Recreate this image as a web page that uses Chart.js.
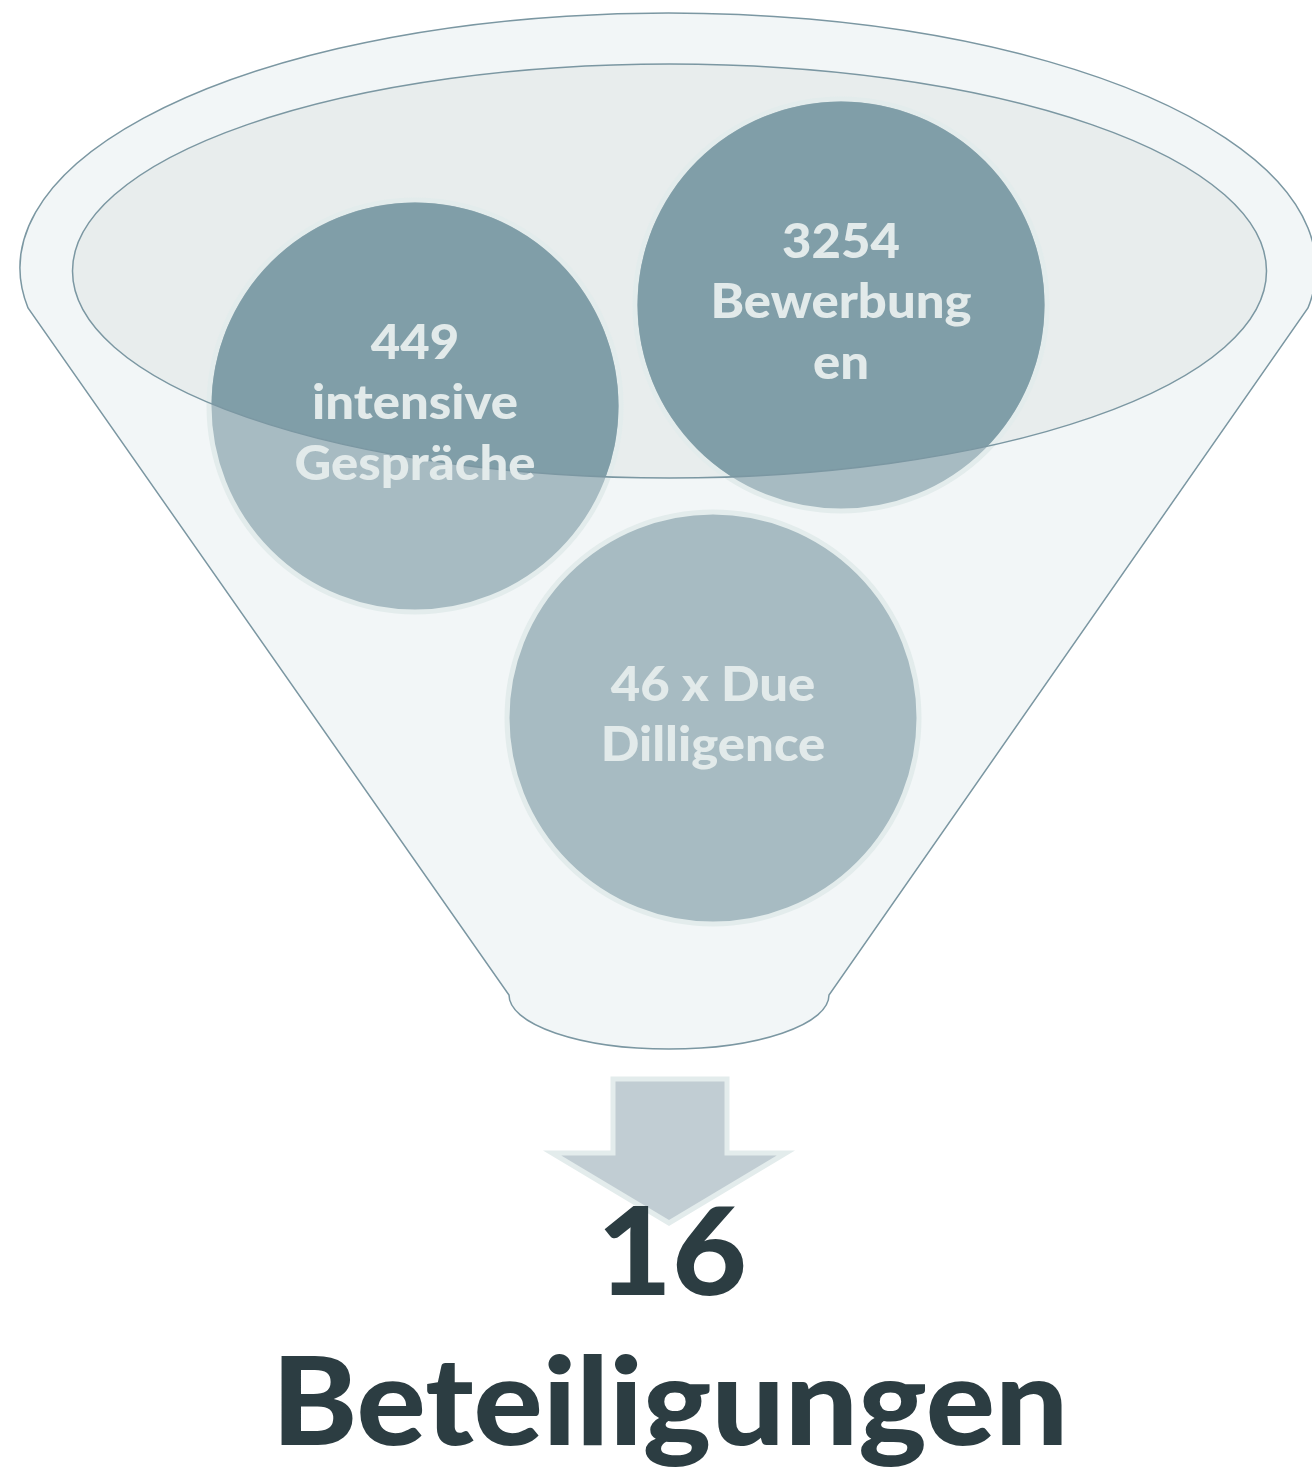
<!DOCTYPE html>
<html>
<head>
<meta charset="utf-8">
<script src="https://cdn.jsdelivr.net/npm/chart.js@4.4.1/dist/chart.umd.min.js"></script>
<style>
  body { margin: 0; background: #ffffff; }
  #wrap { width: 1312px; height: 1468px; position: relative; }
</style>
</head>
<body>
<div id="wrap"><canvas id="funnelChart"></canvas></div>
<script>
// funnel stages (top -> bottom) and the final result
const stageCounts = [3254, 449, 46];
const stageLines = [
    [`${stageCounts[0]}`, 'Bewerbung', 'en'],
    [`${stageCounts[1]}`, 'intensive', 'Gespräche'],
    [`${stageCounts[2]} x Due`, 'Dilligence']
];
const resultCount = 16;
const resultLabel = 'Beteiligungen';

// layout (axis units, the axes span the whole page)
const bubbleCenters = [{ x: 841, y: 305 }, { x: 415, y: 406 }, { x: 713, y: 718 }];
const bubbleRadius = 206;
const rim = { cx: 668, cy: 268, rx: 648, ry: 255, cornerY: 308 };
const spout = { cx: 669, cy: 995, rx: 160, ry: 54 };
const bowl = { cx: 669.5, cy: 271, rx: 597, ry: 207 };
const arrowPts = [[613, 1079], [727, 1079], [727, 1153], [786, 1153], [669, 1223], [552, 1153], [613, 1153]];

const colors = {
    funnelFill: '#f2f6f7',
    funnelLine: '#7b97a2',
    bowlFill: '#e8eded',
    bubbleLight: '#a7bbc2',
    bubbleDark: '#809ea8',
    ring: '#e3ecec',
    bubbleText: '#e2eaea',
    arrowFill: '#c1cdd3',
    darkText: '#2c3d42'
};
const FONT = 'Lato, "Open Sans", sans-serif';
const STRETCH = 1.06; // reference face is a bit wider than Lato

function drawStretched(ctx, text, x, y, size) {
    ctx.save();
    ctx.font = `900 ${size}px ${FONT}`;
    ctx.textAlign = 'center';
    ctx.textBaseline = 'alphabetic';
    ctx.translate(x, y);
    ctx.scale(STRETCH, 1);
    ctx.fillText(text, 0, 0);
    ctx.restore();
}

const funnelPlugin = {
    id: 'funnel',
    beforeDatasetsDraw(chart) {
        const { ctx, scales: { x, y } } = chart;
        const px = v => x.getPixelForValue(v);
        const py = v => y.getPixelForValue(v);
        const sx = v => px(v) - px(0);
        const sy = v => py(v) - py(0);

        // outer funnel body
        const a = Math.asin((rim.cornerY - rim.cy) / rim.ry);
        ctx.save();
        ctx.beginPath();
        ctx.ellipse(px(rim.cx), py(rim.cy), sx(rim.rx), sy(rim.ry), 0, Math.PI - a, 2 * Math.PI + a, false);
        ctx.lineTo(px(spout.cx + spout.rx), py(spout.cy));
        ctx.ellipse(px(spout.cx), py(spout.cy), sx(spout.rx), sy(spout.ry), 0, 0, Math.PI, false);
        ctx.closePath();
        ctx.fillStyle = colors.funnelFill;
        ctx.fill();
        ctx.lineWidth = 1.5;
        ctx.strokeStyle = colors.funnelLine;
        ctx.stroke();

        // inner bowl
        ctx.beginPath();
        ctx.ellipse(px(bowl.cx), py(bowl.cy), sx(bowl.rx), sy(bowl.ry), 0, 0, 2 * Math.PI);
        ctx.fillStyle = colors.bowlFill;
        ctx.fill();
        ctx.restore();
    },
    afterDatasetsDraw(chart) {
        const { ctx, scales: { x, y } } = chart;
        const px = v => x.getPixelForValue(v);
        const py = v => y.getPixelForValue(v);
        const sx = v => px(v) - px(0);
        const sy = v => py(v) - py(0);
        const points = chart.getDatasetMeta(0).data;

        // darker part of the bubbles inside the bowl
        ctx.save();
        ctx.beginPath();
        ctx.ellipse(px(bowl.cx), py(bowl.cy), sx(bowl.rx), sy(bowl.ry), 0, 0, 2 * Math.PI);
        ctx.clip();
        ctx.fillStyle = colors.bubbleDark;
        points.forEach(pt => {
            ctx.beginPath();
            ctx.arc(pt.x, pt.y, sx(bubbleRadius) - 2.5, 0, 2 * Math.PI);
            ctx.fill();
        });
        ctx.restore();

        ctx.save();
        ctx.beginPath();
        ctx.ellipse(px(bowl.cx), py(bowl.cy), sx(bowl.rx), sy(bowl.ry), 0, 0, 2 * Math.PI);
        ctx.lineWidth = 1.5;
        ctx.strokeStyle = colors.funnelLine;
        ctx.stroke();

        // bubble labels
        ctx.fillStyle = colors.bubbleText;
        points.forEach((pt, i) => {
            const lines = stageLines[i];
            lines.forEach((line, j) => {
                const off = 13 + (j - (lines.length - 1) / 2) * 60.5;
                drawStretched(ctx, line, pt.x, pt.y + off, 48);
            });
        });

        // arrow
        ctx.beginPath();
        arrowPts.forEach(([ax, ay], k) => {
            if (k === 0) ctx.moveTo(px(ax), py(ay));
            else ctx.lineTo(px(ax), py(ay));
        });
        ctx.closePath();
        ctx.fillStyle = colors.arrowFill;
        ctx.fill();
        ctx.lineJoin = 'miter';
        ctx.lineWidth = 5;
        ctx.strokeStyle = colors.ring;
        ctx.stroke();

        // result
        ctx.fillStyle = colors.darkText;
        drawStretched(ctx, `${resultCount}`, px(672), py(1295), 122);
        drawStretched(ctx, resultLabel, px(670), py(1445), 122);
        ctx.restore();
    }
};

function renderFunnel() {
    const ctx = document.getElementById('funnelChart').getContext('2d');
    new Chart(ctx, {
        type: 'scatter',
        data: {
            labels: stageLines.map(l => l.join(' ')),
            datasets: [{
                label: 'Stages',
                data: stageCounts.map((c, i) => ({ x: bubbleCenters[i].x, y: bubbleCenters[i].y, count: c })),
                backgroundColor: colors.bubbleLight,
                borderColor: colors.ring,
                borderWidth: 5,
                pointRadius: bubbleRadius,
                pointHoverRadius: bubbleRadius,
                clip: false
            }]
        },
        options: {
            responsive: true,
            maintainAspectRatio: false,
            animation: false,
            events: [],
            layout: { padding: 0, autoPadding: false },
            scales: {
                x: { type: 'linear', min: 0, max: 1312, display: false },
                y: { type: 'linear', min: 0, max: 1468, reverse: true, display: false }
            },
            plugins: {
                legend: { display: false },
                tooltip: { enabled: false }
            }
        },
        plugins: [funnelPlugin]
    });
}

Promise.all([
    document.fonts.load('900 48px Lato'),
    document.fonts.load('bold 48px Lato')
]).then(renderFunnel, renderFunnel);
</script>
</body>
</html>
